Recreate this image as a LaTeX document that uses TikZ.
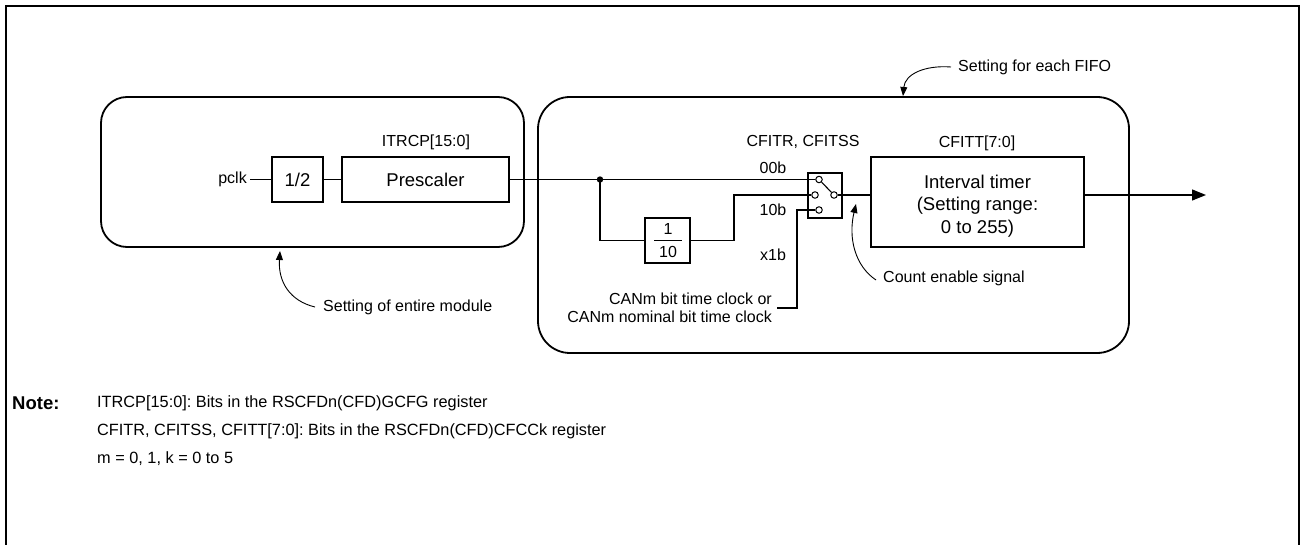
\documentclass[tikz,border=0pt]{standalone}
\usepackage{fontspec}
\setmainfont{Liberation Sans}
\usetikzlibrary{arrows.meta}
\frenchspacing
\begin{document}
\begin{tikzpicture}[x=1pt,y=-1pt,
  every node/.style={inner sep=0pt, font=\fontsize{16}{19}\selectfont},
  bigtxt/.style={font=\fontsize{18.5}{23}\selectfont},
  blk/.style={draw, line width=1.5pt, bigtxt},
  region/.style={draw, line width=1.8pt},
  sig/.style={line width=1.2pt},
  pin/.style={draw, circle, line width=1pt, fill=white, minimum size=6.5pt},
  callout/.style={line width=0.9pt, -{Triangle[length=9pt,width=7pt]}},
  outarrow/.style={line width=1.2pt, -{Triangle[length=14pt,width=11pt]}},
  notetxt/.style={anchor=west, font=\fontsize{16.3}{19}\selectfont}
]
\useasboundingbox (0,0) rectangle (1301,545);
% outer frame (open at bottom)
\draw[line width=2.5pt] (6,545) -- (6,6) -- (1299,6) -- (1299,545);

% regions
\draw[region, rounded corners=26pt] (101,97) rectangle (524,247);
\draw[region, rounded corners=32pt] (538,97) rectangle (1129,353);

% blocks
\node[blk, minimum width=51pt, minimum height=45pt] (half) at (297.5,179.5) {1/2};
\node[blk, minimum width=167pt, minimum height=45pt] (pre) at (425.5,179.5) {Prescaler};
\node[blk, minimum width=45pt, minimum height=45pt] (div) at (667.5,240.5) {};
\node (divn) at (668,229) {1};
\node (divd) at (668,252) {10};
\draw[line width=0.9pt] (654,240.5) -- (682,240.5);
\node[draw, line width=1.3pt, minimum width=34pt, minimum height=45pt] (sw) at (825,195.5) {};
\node[blk, minimum width=213pt, minimum height=90pt] (it) at (977.5,202) {};
\node[align=center, font=\fontsize{18.5}{22.5}\selectfont] (ittxt) at (977.5,206) {Interval timer\\(Setting range:\\0 to 255)};

% switch contacts
\node[pin] (s1) at (819,179.5) {};
\node[pin] (s2) at (815,195) {};
\node[pin] (s3) at (819,210) {};
\node[pin] (so) at (834,195) {};
\draw[line width=1.1pt] (s1) -- (so);

% labels
\node (pclk) [anchor=east, inner xsep=3pt] at (250,179.5) {pclk};
\node (itrcp) at (426,142) {ITRCP[15:0]};
\node (cfitr) at (803,142) {CFITR, CFITSS};
\node (cfitt) at (977,143) {CFITT[7:0]};
\node (l00) at (773,168) {00b};
\node (l10) at (773,210) {10b};
\node (lx1) at (773,255) {x1b};
\node (can) [anchor=east, align=right, inner xsep=5pt, font=\fontsize{16}{18}\selectfont] at (777,308) {CANm bit time clock or\\CANm nominal bit time clock};

% signal lines
\coordinate (j) at (600,179.5);
\coordinate (k1) at (734,240.5);
\coordinate (c1) at (797,308);
\coordinate (out) at (1206,195);
\draw[sig] (pclk.east) -- (half.west);
\draw[sig] (half.east) -- (pre.west);
\draw[sig] (pre.east) -- (s1.west);
\fill (j) circle (3.2pt);
\draw[sig] (j) |- (div.west);
\draw[sig] (div.east) -- (k1) |- (s2.west);
\draw[sig] (s3.west) -| (c1) -- (can.east);
\draw[sig] (so.east) -- (so.east -| it.west);
\draw[outarrow] (so.east -| it.east) -- (out);

% callouts
\node (ent) [anchor=west] at (323,307) {Setting of entire module};
\coordinate (entTip) at (280,251);
\draw[callout] ([xshift=-8pt]ent.west) .. controls (290,301) and (278,282) .. (entTip);

\node (fifo) [anchor=west] at (958,67) {Setting for each FIFO};
\coordinate (fifoTip) at (903,96);
\draw[callout] ([xshift=-7pt]fifo.west) .. controls (925,65) and (905,74) .. (fifoTip);

\node (cnt) [anchor=west] at (883,278) {Count enable signal};
\coordinate (cntTip) at (856,204);
\draw[callout] ([xshift=-7pt,yshift=-2pt]cnt.west) .. controls (855,266) and (848,238) .. (cntTip);

% note
\node (notek) [anchor=west, font=\bfseries\fontsize{18.5}{21}\selectfont] at (12,403) {Note:};
\node (note1) [notetxt] at (97,403) {ITRCP[15:0]: Bits in the RSCFDn(CFD)GCFG register};
\node (note2) [notetxt] at (97,431) {CFITR, CFITSS, CFITT[7:0]: Bits in the RSCFDn(CFD)CFCCk register};
\node (note3) [notetxt] at (97,459) {m = 0, 1, k = 0 to 5};
\end{tikzpicture}
\end{document}
